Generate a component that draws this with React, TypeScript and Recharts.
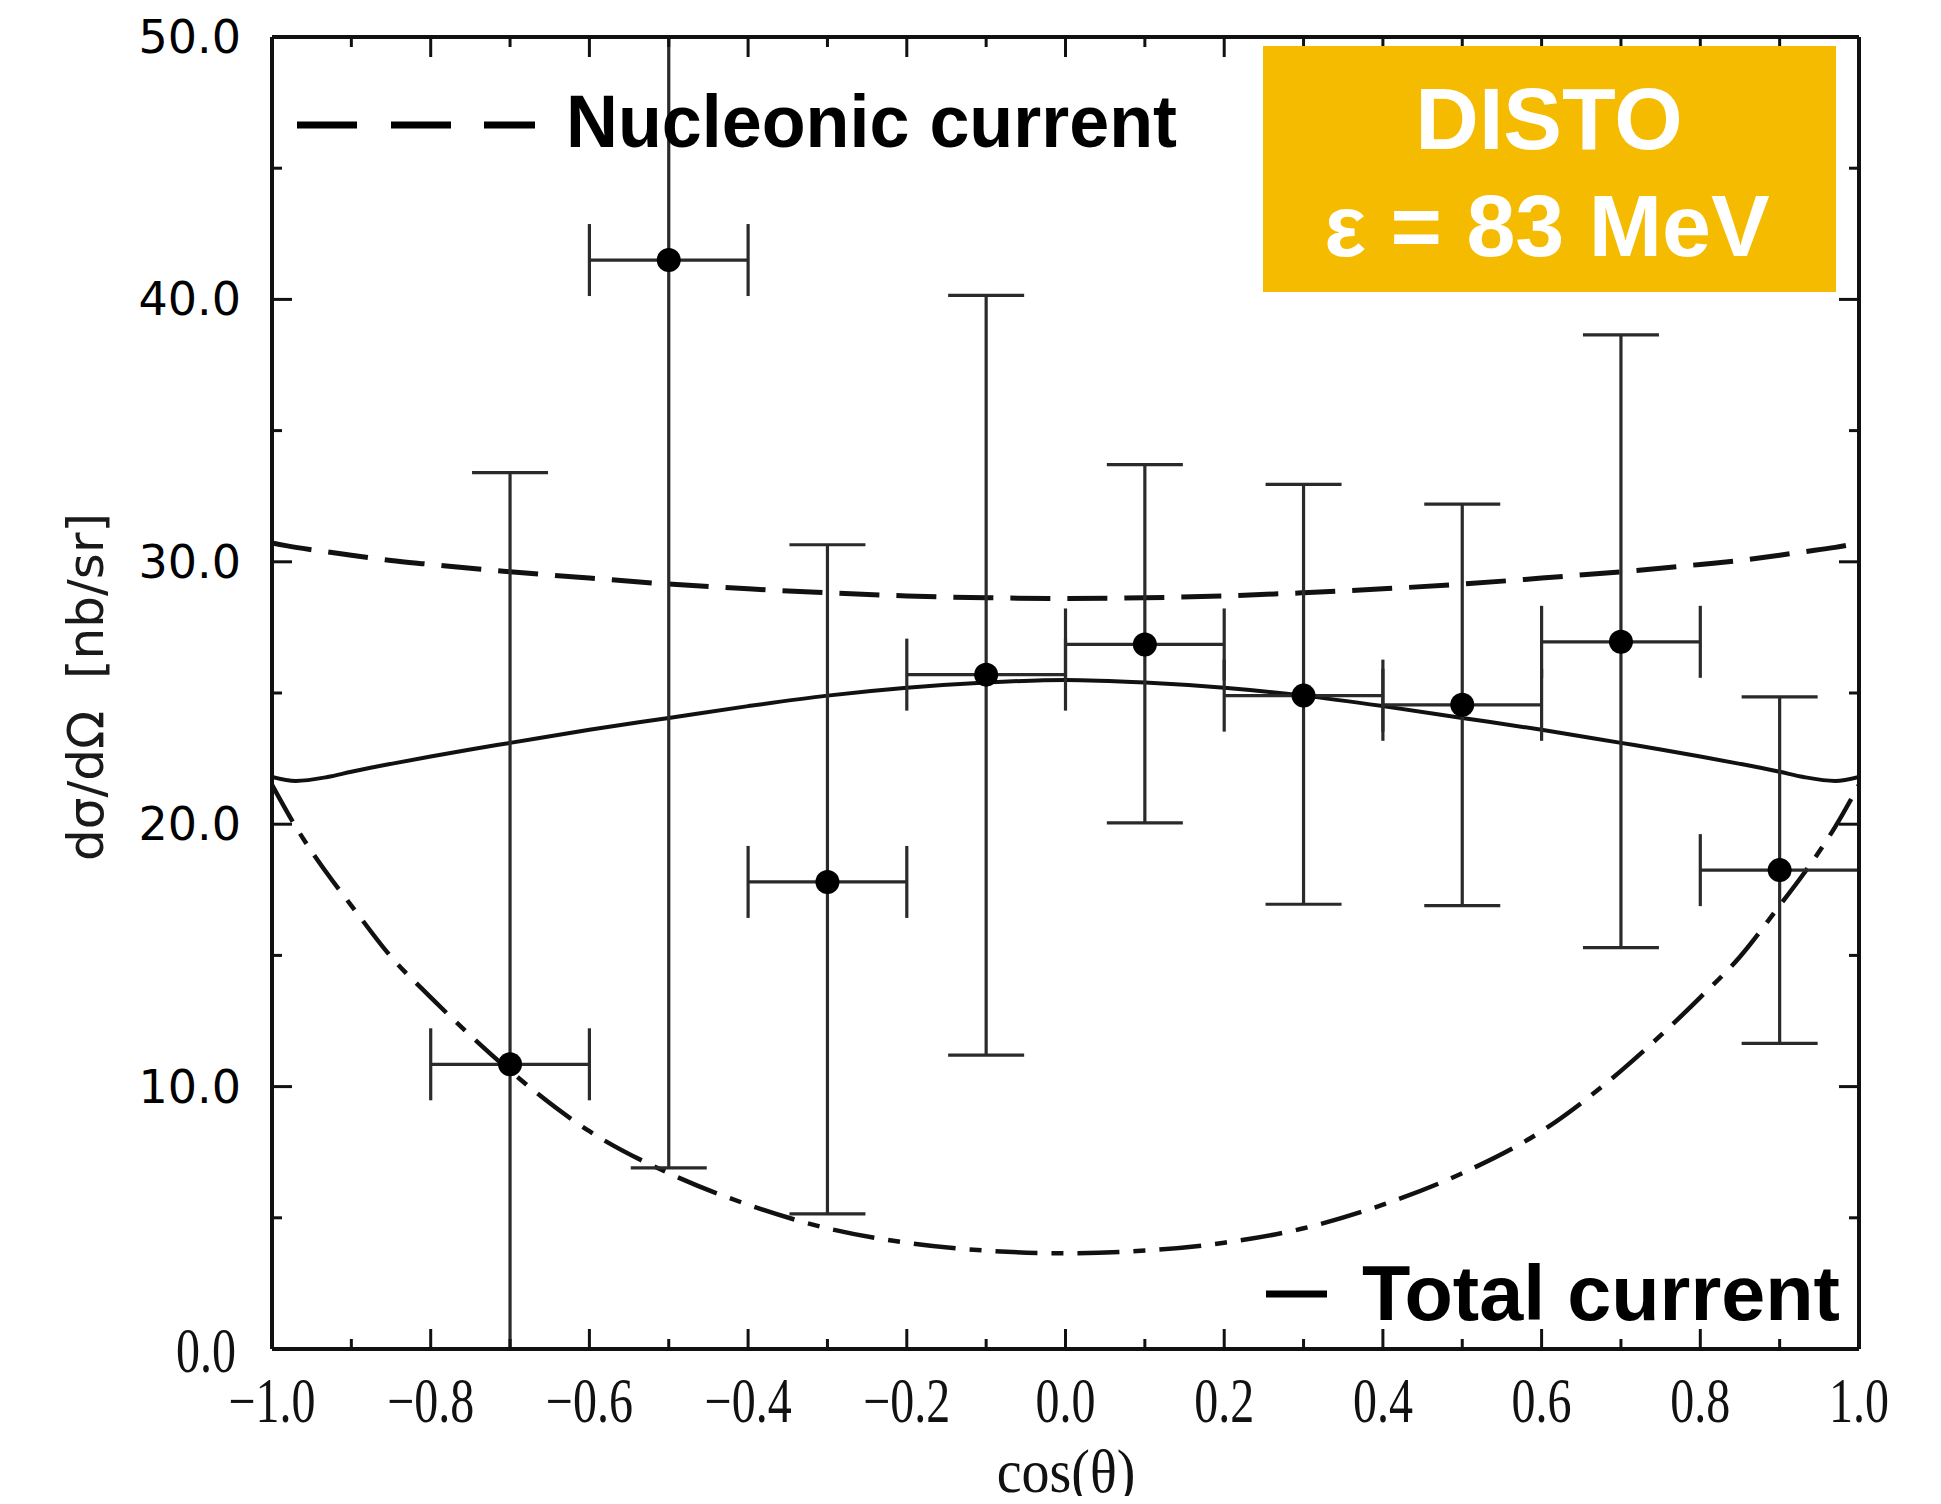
import React from 'react';
import { ComposedChart, Line, Scatter, XAxis, YAxis, ErrorBar } from 'recharts';

// ---- data ----
const curveX = [-1, -0.97, -0.93, -0.9, -0.85, -0.8, -0.75, -0.7, -0.6, -0.5, -0.4, -0.3, -0.2, -0.1, 0,
  0.1, 0.2, 0.3, 0.4, 0.5, 0.6, 0.7, 0.75, 0.8, 0.85, 0.9, 0.93, 0.97, 1];
const nucleonicY = [30.72, 30.55, 30.38, 30.25, 30.05, 29.9, 29.75, 29.62, 29.38, 29.15, 28.97, 28.82, 28.7, 28.63, 28.6,
  28.63, 28.7, 28.82, 28.97, 29.15, 29.38, 29.62, 29.75, 29.9, 30.05, 30.25, 30.38, 30.55, 30.72];
const totalY = [21.8, 21.65, 21.8, 22.0, 22.3, 22.58, 22.85, 23.1, 23.6, 24.05, 24.5, 24.9, 25.2, 25.4, 25.5,
  25.4, 25.2, 24.9, 24.5, 24.05, 23.6, 23.1, 22.85, 22.58, 22.3, 22.0, 21.8, 21.65, 21.8];
const otherY = [21.5, 19.9, 18.1, 16.9, 14.95, 13.4, 11.95, 10.6, 8.3, 6.7, 5.5, 4.6, 4.05, 3.75, 3.65,
  3.75, 4.05, 4.6, 5.5, 6.7, 8.3, 10.6, 11.95, 13.4, 14.95, 16.9, 18.1, 19.9, 21.5];

const pointX = [-0.7, -0.5, -0.3, -0.1, 0.1, 0.3, 0.5, 0.7, 0.9];
const pointY = [10.85, 41.5, 17.8, 25.7, 26.85, 24.9, 24.55, 26.95, 18.25];
const pointLow = [0, 6.9, 5.15, 11.2, 20.05, 16.95, 16.9, 15.3, 11.65];
const pointHigh = [33.4, 50, 30.65, 40.15, 33.7, 32.95, 32.2, 38.65, 24.85];
const binHalfWidth = [0.1, 0.1, 0.1, 0.1, 0.1, 0.1, 0.1, 0.1, 0.1];

const xTicks = [-1, -0.9, -0.8, -0.7, -0.6, -0.5, -0.4, -0.3, -0.2, -0.1, 0, 0.1, 0.2, 0.3, 0.4, 0.5, 0.6, 0.7, 0.8, 0.9, 1];
const yTicks = [0, 5, 10, 15, 20, 25, 30, 35, 40, 45, 50];

const nucleonicData = curveX.map((x, i) => ({ x, y: nucleonicY[i] }));
const totalData = curveX.map((x, i) => ({ x, y: totalY[i] }));
const otherData = curveX.map((x, i) => ({ x, y: otherY[i] }));
const pointData = pointX.map((x, i) => ({
  x,
  y: pointY[i],
  ey: [pointY[i] - pointLow[i], pointHigh[i] - pointY[i]],
  ex: [binHalfWidth[i], binHalfWidth[i]],
}));

const INK = '#111';
const Y_AXIS_W = 264;
const isMajorX = (v: number) => Math.abs(Math.round(v * 10)) % 2 === 0;
const isMajorY = (v: number) => Math.round(v) % 10 === 0;
const fmtX = (v: number) => (v < 0 ? '\u2212' + Math.abs(v).toFixed(1) : v.toFixed(1));

const BottomTick = (props: any) => {
  const { x, y, payload } = props;
  const v = payload.value;
  const major = isMajorX(v);
  return (
    <g>
      <line x1={x} x2={x} y1={y} y2={y - (major ? 20 : 10)} stroke={INK} strokeWidth={3} />
      {major && (
        <text transform={`translate(${x},${y + 52}) scale(1,1.3)`} textAnchor="middle" dominantBaseline="central"
          fontFamily="'Liberation Serif', serif" fontSize={48} fill={INK}>{fmtX(v)}</text>
      )}
    </g>
  );
};

const TopTick = (props: any) => {
  const { x, y, payload } = props;
  const major = isMajorX(payload.value);
  return <line x1={x} x2={x} y1={y} y2={y + (major ? 20 : 10)} stroke={INK} strokeWidth={3} />;
};

const LeftTick = (props: any) => {
  const { y, payload } = props;
  const x = Y_AXIS_W;
  const v = payload.value;
  const major = isMajorY(v);
  return (
    <g>
      <line x1={x} x2={x + (major ? 20 : 10)} y1={y} y2={y} stroke={INK} strokeWidth={3} />
      {major && v !== 0 && (
        <text x={x - 31} y={y} textAnchor="end" dominantBaseline="central"
          fontFamily="'DejaVu Sans', sans-serif" fontSize={46} fill="#000">{v.toFixed(1)}</text>
      )}
      {major && v === 0 && (
        <text transform={`translate(${x - 36},${y + 2}) scale(1,1.3)`} textAnchor="end" dominantBaseline="central"
          fontFamily="'Liberation Serif', serif" fontSize={48} fill={INK}>{v.toFixed(1)}</text>
      )}
    </g>
  );
};

const RightTick = (props: any) => {
  const { x, y, payload } = props;
  const major = isMajorY(payload.value);
  return <line x1={x} x2={x - (major ? 20 : 10)} y1={y} y2={y} stroke={INK} strokeWidth={3} />;
};

const Dot = (props: any) => {
  const { cx, cy } = props;
  return <circle cx={cx} cy={cy} r={12} fill="#000" />;
};

const W = 1925;
const H = 1496;

export default function App() {
  return (
    <div style={{ position: 'relative', width: W, height: H, marginBottom: -8 }}>
      <ComposedChart width={W} height={H} margin={{ top: 28, right: 73, bottom: 0, left: 0 }}>
        <XAxis xAxisId="b" dataKey="x" type="number" domain={[-1, 1]} ticks={xTicks} interval={0}
          allowDataOverflow orientation="bottom" height={155} tickSize={0} tickMargin={0} tickLine={false}
          axisLine={{ stroke: INK, strokeWidth: 4 }} tick={<BottomTick />} />
        <XAxis xAxisId="t" dataKey="x" type="number" domain={[-1, 1]} ticks={xTicks} interval={0}
          allowDataOverflow orientation="top" height={1} tickSize={0} tickMargin={0} tickLine={false}
          axisLine={{ stroke: INK, strokeWidth: 4 }} tick={<TopTick />} />
        <YAxis yAxisId="l" dataKey="y" type="number" domain={[0, 50]} ticks={yTicks} interval={0}
          allowDataOverflow orientation="left" width={Y_AXIS_W} tickSize={0} tickMargin={0} tickLine={false}
          axisLine={{ stroke: INK, strokeWidth: 4 }} tick={<LeftTick />} />
        <YAxis yAxisId="r" dataKey="y" type="number" domain={[0, 50]} ticks={yTicks} interval={0}
          allowDataOverflow orientation="right" width={1} tickSize={0} tickMargin={0} tickLine={false}
          axisLine={{ stroke: INK, strokeWidth: 4 }} tick={<RightTick />} />

        <Line xAxisId="t" yAxisId="r" data={totalData} dataKey="y" stroke="none" dot={false} activeDot={false}
          isAnimationActive={false} />

        <Line xAxisId="b" yAxisId="l" data={nucleonicData} dataKey="y" type="monotone" stroke={INK}
          strokeWidth={5} strokeDasharray="40 17" dot={false} isAnimationActive={false} />
        <Line xAxisId="b" yAxisId="l" data={totalData} dataKey="y" type="monotone" stroke={INK}
          strokeWidth={4} dot={false} isAnimationActive={false} />
        <Line xAxisId="b" yAxisId="l" data={otherData} dataKey="y" type="monotone" stroke={INK}
          strokeWidth={4.5} strokeDasharray="42 14 12 14" dot={false} isAnimationActive={false} />

        <Scatter xAxisId="b" yAxisId="l" data={pointData} dataKey="y" shape={<Dot />} isAnimationActive={false}>
          <ErrorBar dataKey="ey" direction="y" width={38} strokeWidth={3.2} stroke="#2a2a2a" isAnimationActive={false} />
          <ErrorBar dataKey="ex" direction="x" width={36} strokeWidth={3.2} stroke="#2a2a2a" isAnimationActive={false} />
        </Scatter>
      </ComposedChart>

      <svg width={W} height={H} style={{ position: 'absolute', left: 0, top: 0, pointerEvents: 'none' }}>
        {/* nucleonic legend */}
        <line x1={289} x2={349} y1={117} y2={117} stroke="#000" strokeWidth={7} />
        <line x1={383} x2={443} y1={117} y2={117} stroke="#000" strokeWidth={7} />
        <line x1={476} x2={527} y1={117} y2={117} stroke="#000" strokeWidth={7} />
        <text x={558} y={139} fontFamily="'Liberation Sans', Arial, sans-serif" fontWeight="bold" fontSize={75}
          textLength={611} lengthAdjust="spacingAndGlyphs" fill="#000">Nucleonic current</text>

        {/* total legend */}
        <line x1={1258} x2={1319} y1={1286} y2={1286} stroke="#000" strokeWidth={7} />
        <text x={1354} y={1312} fontFamily="'Liberation Sans', Arial, sans-serif" fontWeight="bold" fontSize={77}
          textLength={478} lengthAdjust="spacingAndGlyphs" fill="#000">Total current</text>

        {/* DISTO box */}
        <rect x={1255} y={38} width={573} height={246} fill="#F5BB00" />
        <text x={1541} y={141} textAnchor="middle" fontFamily="'Liberation Sans', Arial, sans-serif" fontWeight="bold"
          fontSize={88} fill="#fff">DISTO</text>
        <text x={1539} y={248} textAnchor="middle" fontFamily="'Liberation Sans', Arial, sans-serif" fontWeight="bold"
          fontSize={88} fill="#fff">ε = 83 MeV</text>

        {/* axis titles */}
        <text transform="translate(78,679) rotate(-90)" textAnchor="middle" dominantBaseline="central"
          fontFamily="'DejaVu Sans', sans-serif" fontSize={50} fill="#1a1a1a" style={{ whiteSpace: 'pre' }}>dσ/dΩ  [nb/sr]</text>
        <text transform="translate(1058,1484) scale(1,1.08)" textAnchor="middle"
          fontFamily="'Liberation Serif', serif" fontSize={56} fill={INK}>cos(θ)</text>
      </svg>
    </div>
  );
}
